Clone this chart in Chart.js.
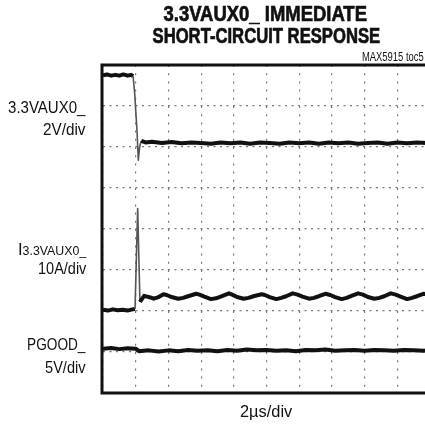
<!DOCTYPE html>
<html>
<head>
<meta charset="utf-8">
<script src="https://cdn.jsdelivr.net/npm/chart.js@4.4.1/dist/chart.umd.min.js"></script>
<style>
  body { margin: 0; background: #fff; }
  #wrap { position: relative; width: 425px; height: 430px; overflow: hidden; background: #fff; }
  #scope { position: absolute; left: 0; top: 0; }
  .txt { position: absolute; white-space: nowrap; line-height: 1; color: #111;
         font-family: "Liberation Sans Narrow", "Liberation Sans", Arial, sans-serif; }
  .ttl { font-weight: bold; font-size: 22px; -webkit-text-stroke: 0.7px #111; }
  .lbl { font-size: 16px; }
</style>
</head>
<body>
<div id="wrap">
  <canvas id="scope" width="440" height="430"></canvas>

  <div class="txt ttl" data-w="203" data-cx="265" style="top:3px">3.3VAUX0_ IMMEDIATE</div>
  <div class="txt ttl" data-w="228" data-cx="266" style="top:25px">SHORT-CIRCUIT RESPONSE</div>
  <div class="txt" data-w="62" data-r="424" style="top:51px;font-size:12px">MAX5915 toc5</div>

  <div class="txt lbl" data-w="77" data-r="85" style="top:100px">3.3VAUX0_</div>
  <div class="txt lbl" data-w="42" data-r="85" style="top:122px">2V/div</div>
  <div class="txt lbl" data-w="68" data-r="86" style="top:242px">I<span style="font-size:12px">3.3VAUX0_</span></div>
  <div class="txt lbl" data-w="48" data-r="86" style="top:261px">10A/div</div>
  <div class="txt lbl" data-w="58" data-r="85" style="top:337px">PGOOD_</div>
  <div class="txt lbl" data-w="40" data-r="85" style="top:360px">5V/div</div>

  <div class="txt lbl" data-w="52" data-cx="266" style="top:403px;font-size:17px">2µs/div</div>
</div>

<script>
// time in divisions (2us/div), levels in screen divisions from the bottom
var xDivs = 10;
var yDivs = 8;

var auxTime = [0, 0.12, 0.25, 0.38, 0.5, 0.62, 0.75, 0.86, 0.92, 0.97,
  1.0, 1.04, 1.08, 1.12, 1.17, 1.3, 1.5, 1.8, 2.1, 2.4,
  2.7, 3.0, 3.3, 3.6, 3.9, 4.2, 4.5, 4.8, 5.1, 5.4,
  5.7, 6.0, 6.3, 6.6, 6.9, 7.2, 7.5, 7.8, 8.1, 8.4,
  8.7, 9.0, 9.3, 9.6, 9.9, 10];
var auxLevel = [7.75, 7.77, 7.74, 7.76, 7.74, 7.77, 7.74, 7.76, 7.73, 7.3,
  6.9, 6.4, 5.68, 6.0, 6.15, 6.11, 6.13, 6.1, 6.12, 6.09,
  6.11, 6.1, 6.08, 6.11, 6.09, 6.11, 6.08, 6.11, 6.1, 6.08,
  6.11, 6.09, 6.11, 6.08, 6.11, 6.09, 6.11, 6.08, 6.1, 6.11,
  6.08, 6.11, 6.09, 6.11, 6.1, 6.1];

var curTime = [0, 0.15, 0.3, 0.45, 0.6, 0.75, 0.9, 0.98, 1.06, 1.13,
  1.2, 1.26, 1.45, 1.55, 1.7, 1.85, 1.95, 2.1, 2.3, 2.45,
  2.6, 2.85, 2.95, 3.1, 3.3, 3.45, 3.6, 3.85, 3.95, 4.1,
  4.3, 4.45, 4.6, 4.85, 4.95, 5.1, 5.3, 5.45, 5.6, 5.8,
  5.95, 6.1, 6.3, 6.45, 6.6, 6.8, 6.95, 7.1, 7.3, 7.45,
  7.6, 7.8, 7.95, 8.1, 8.3, 8.45, 8.6, 8.8, 8.95, 9.1,
  9.3, 9.45, 9.6, 9.8, 9.95, 10];
var curLevel = [2.03, 2.01, 2.04, 2.02, 2.03, 2.01, 2.04, 2.05, 4.5, 2.22,
  2.3, 2.37, 2.33, 2.3, 2.34, 2.41, 2.39, 2.34, 2.3, 2.32,
  2.36, 2.42, 2.4, 2.35, 2.29, 2.31, 2.35, 2.43, 2.4, 2.34,
  2.3, 2.32, 2.36, 2.41, 2.39, 2.34, 2.29, 2.32, 2.36, 2.43,
  2.4, 2.35, 2.3, 2.32, 2.36, 2.42, 2.39, 2.34, 2.29, 2.32,
  2.37, 2.43, 2.4, 2.34, 2.3, 2.32, 2.36, 2.43, 2.4, 2.35,
  2.29, 2.32, 2.36, 2.42, 2.4, 2.39];

var pgTime = [0, 0.25, 0.5, 0.75, 1.0, 1.1, 1.4, 1.7, 2.0, 2.3,
  2.6, 2.9, 3.2, 3.5, 3.8, 4.1, 4.4, 4.7, 5.0, 5.3,
  5.6, 5.9, 6.2, 6.5, 6.8, 7.1, 7.4, 7.7, 8.0, 8.3,
  8.6, 8.9, 9.2, 9.5, 9.8, 10];
var pgLevel = [1.08, 1.1, 1.07, 1.09, 1.08, 1.02, 1.04, 1.01, 1.04, 1.02,
  1.05, 1.03, 1.04, 1.02, 1.05, 1.03, 1.06, 1.04, 1.05, 1.03,
  1.04, 1.02, 1.05, 1.04, 1.06, 1.03, 1.04, 1.05, 1.03, 1.05,
  1.04, 1.03, 1.05, 1.04, 1.03, 1.04];

function pts(t, v) {
  var out = [];
  for (var i = 0; i < t.length; i++) out.push({ x: t[i], y: v[i] });
  return out;
}

// steep edges show up thin and grey on the scope
function steep(ctx) {
  return Math.abs(ctx.p1.parsed.y - ctx.p0.parsed.y) / 8 > 2.5 * Math.abs(ctx.p1.parsed.x - ctx.p0.parsed.x) / 10;
}

function trace(t, v) {
  return {
    data: pts(t, v),
    borderColor: '#111',
    borderWidth: 4,
    borderJoinStyle: 'round',
    pointRadius: 0,
    tension: 0,
    segment: {
      borderWidth: function (ctx) { return steep(ctx) ? 1.6 : undefined; },
      borderColor: function (ctx) { return steep(ctx) ? '#555' : undefined; }
    }
  };
}

var frame = {
  id: 'frame',
  afterDatasetsDraw: function (chart) {
    var a = chart.chartArea, c = chart.ctx;
    c.save();
    c.strokeStyle = '#111';
    c.lineWidth = 3;
    c.beginPath();
    c.moveTo(a.right + 5, a.top);
    c.lineTo(a.left - 1, a.top);
    c.lineTo(a.left - 1, a.bottom);
    c.lineTo(a.right + 5, a.bottom);
    c.stroke();
    c.restore();
  }
};

new Chart(document.getElementById('scope'), {
  type: 'line',
  data: {
    datasets: [trace(auxTime, auxLevel), trace(curTime, curLevel), trace(pgTime, pgLevel)]
  },
  options: {
    responsive: false,
    animation: false,
    devicePixelRatio: 1,
    layout: { padding: { left: 103, top: 65, right: 10, bottom: 37 } },
    plugins: { legend: { display: false }, tooltip: { enabled: false } },
    scales: {
      x: {
        type: 'linear', min: 0, max: xDivs,
        ticks: { display: false, stepSize: 1 },
        grid: { color: '#777', lineWidth: 1.2, drawTicks: false },
        border: { display: false, dash: [2, 6.2] }
      },
      y: {
        min: 0, max: yDivs,
        ticks: { display: false, stepSize: 1 },
        grid: { color: '#777', lineWidth: 1.2, drawTicks: false },
        border: { display: false, dash: [2, 4.5] }
      }
    }
  },
  plugins: [frame]
});

// squeeze the text to the narrow type of the original
var els = document.querySelectorAll('.txt');
for (var i = 0; i < els.length; i++) {
  var el = els[i];
  var w = el.offsetWidth;
  var k = el.dataset.w / w;
  if (el.dataset.r) {
    el.style.left = (el.dataset.r - w) + 'px';
    el.style.transformOrigin = 'right center';
  } else {
    el.style.left = (el.dataset.cx - w / 2) + 'px';
    el.style.transformOrigin = 'center center';
  }
  el.style.transform = 'scaleX(' + k.toFixed(3) + ')';
}
</script>
</body>
</html>
